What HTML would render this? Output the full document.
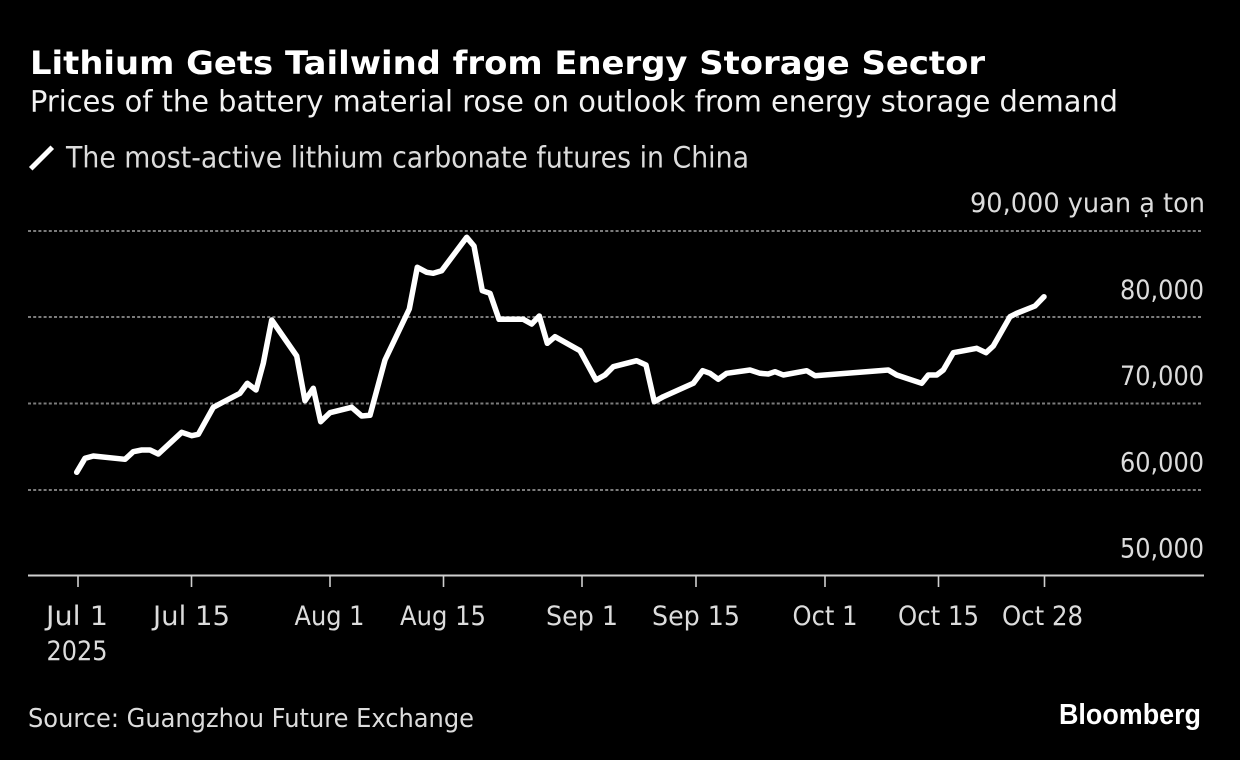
<!DOCTYPE html>
<html>
<head>
<meta charset="utf-8">
<style>
  html, body { margin: 0; padding: 0; background: #000; }
  body { width: 1240px; height: 760px; overflow: hidden; }
  svg { display: block; }
  .t { font-family: "DejaVu Sans", "Liberation Sans", sans-serif; }
</style>
</head>
<body>
<svg width="1240" height="760" viewBox="0 0 1240 760" xmlns="http://www.w3.org/2000/svg">
  <rect x="0" y="0" width="1240" height="760" fill="#000"/>

  <!-- Title / subtitle -->
  <text class="t" x="30" y="74" font-size="32" font-weight="bold" fill="#ffffff" textLength="955" lengthAdjust="spacingAndGlyphs">Lithium Gets Tailwind from Energy Storage Sector</text>
  <text class="t" x="30" y="111.5" font-size="29" fill="#f2f2f2" textLength="1088" lengthAdjust="spacingAndGlyphs">Prices of the battery material rose on outlook from energy storage demand</text>

  <!-- Legend -->
  <line x1="32.5" y1="167" x2="50.5" y2="149" stroke="#ffffff" stroke-width="5" stroke-linecap="square"/>
  <text class="t" x="66" y="167.5" font-size="29" fill="#dcdcdc" textLength="683" lengthAdjust="spacingAndGlyphs">The most-active lithium carbonate futures in China</text>

  <!-- Gridlines -->
  <g stroke="#7c7c7c" stroke-width="2" stroke-dasharray="3 2.2">
    <line x1="28" y1="231" x2="1203" y2="231"/>
    <line x1="28" y1="317" x2="1203" y2="317"/>
    <line x1="28" y1="403.5" x2="1203" y2="403.5"/>
    <line x1="28" y1="490" x2="1203" y2="490"/>
  </g>

  <!-- Y labels -->
  <g class="t" font-size="27" fill="#dcdcdc" text-anchor="end">
    <text x="1205" y="212" textLength="235" lengthAdjust="spacingAndGlyphs">90,000 yuan ạ ton</text>
    <text x="1204" y="299" textLength="84" lengthAdjust="spacingAndGlyphs">80,000</text>
    <text x="1204" y="385" textLength="84" lengthAdjust="spacingAndGlyphs">70,000</text>
    <text x="1204" y="471.5" textLength="84" lengthAdjust="spacingAndGlyphs">60,000</text>
    <text x="1204" y="557.5" textLength="84" lengthAdjust="spacingAndGlyphs">50,000</text>
  </g>

  <!-- X axis -->
  <line x1="28" y1="575.5" x2="1204" y2="575.5" stroke="#cfcfcf" stroke-width="2"/>
  <g stroke="#cfcfcf" stroke-width="1.6">
    <line x1="78" y1="576" x2="78" y2="587"/>
    <line x1="191.5" y1="576" x2="191.5" y2="587"/>
    <line x1="330" y1="576" x2="330" y2="587"/>
    <line x1="443.5" y1="576" x2="443.5" y2="587"/>
    <line x1="582" y1="576" x2="582" y2="587"/>
    <line x1="696" y1="576" x2="696" y2="587"/>
    <line x1="825" y1="576" x2="825" y2="587"/>
    <line x1="938.5" y1="576" x2="938.5" y2="587"/>
    <line x1="1044.5" y1="576" x2="1044.5" y2="587"/>
  </g>
  <g class="t" font-size="27" fill="#dcdcdc" text-anchor="middle">
    <text x="77" y="625" textLength="62" lengthAdjust="spacingAndGlyphs">Jul 1</text>
    <text x="77" y="660" textLength="61" lengthAdjust="spacingAndGlyphs">2025</text>
    <text x="191.5" y="625" textLength="77" lengthAdjust="spacingAndGlyphs">Jul 15</text>
    <text x="329.5" y="625" textLength="70" lengthAdjust="spacingAndGlyphs">Aug 1</text>
    <text x="443" y="625" textLength="86" lengthAdjust="spacingAndGlyphs">Aug 15</text>
    <text x="582" y="625" textLength="72" lengthAdjust="spacingAndGlyphs">Sep 1</text>
    <text x="696" y="625" textLength="88" lengthAdjust="spacingAndGlyphs">Sep 15</text>
    <text x="825" y="625" textLength="65" lengthAdjust="spacingAndGlyphs">Oct 1</text>
    <text x="938.5" y="625" textLength="81" lengthAdjust="spacingAndGlyphs">Oct 15</text>
    <text x="1042.5" y="625" textLength="81" lengthAdjust="spacingAndGlyphs">Oct 28</text>
  </g>

  <!-- Series -->
  <polyline fill="none" stroke="#ffffff" stroke-width="5.5" stroke-linejoin="round" stroke-linecap="round"
    points="76.7,472.3 85,458.3 93.3,456 125,459.3 133.3,451.7 141.7,450 150,450 158.3,454 181.7,432.3 191.7,435.7 198.3,434.3 213.3,407.3 223.3,402 240,393.3 247.3,383.3 256,390 263.3,363.3 271.7,320 296.7,356 305,400.7 313.3,388.3 320.7,421.7 330,412.7 351.7,407.3 361.7,416 370,415.3 385,360 409.3,309 417.3,267.3 426.7,272.3 433.3,273.3 441.7,270.7 466.7,237.3 474,246 482.3,290.7 490,293.3 499,319.3 523.3,319.3 531.7,324 539.3,316 547.3,343.3 555,336.7 580,350.7 596,380 605,375 613.3,366.7 636.7,360.7 646,365 654.3,401.7 663.3,396.7 693.3,383.3 702.7,370.7 710,373.3 718.3,379.3 726.7,373.3 750,370 760,373.3 768.3,374 775,371.7 783.3,375 806.7,370.7 815,375.7 888.3,370 896.7,375 921.7,383.3 928.3,375 936.7,375 943.3,370 953.3,352.7 976.7,348.3 986,352.7 993.3,346 1010,316.7 1016.7,313.3 1035,306 1044,296.7"/>

  <!-- Footer -->
  <text class="t" x="28" y="727" font-size="26" fill="#dcdcdc" textLength="446" lengthAdjust="spacingAndGlyphs">Source: Guangzhou Future Exchange</text>
  <text x="1201" y="724" font-family="Liberation Sans, sans-serif" font-size="29" font-weight="bold" fill="#ffffff" text-anchor="end" textLength="142" lengthAdjust="spacingAndGlyphs">Bloomberg</text>
</svg>
</body>
</html>
